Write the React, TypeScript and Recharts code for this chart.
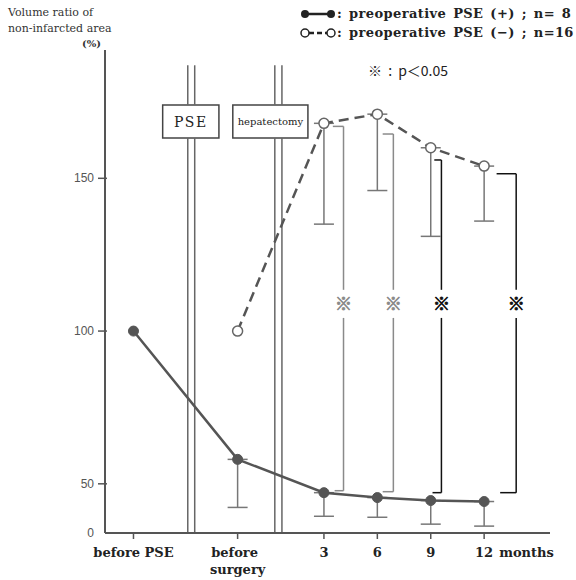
import React from "react";
import {
  ErrorBar,
  Line,
  LineChart,
  ReferenceArea,
  ReferenceDot,
  ReferenceLine,
  XAxis,
  YAxis,
} from "recharts";

// time axis positions (broken axis: before PSE / before surgery / months after)
const xPos = [-7.7, -1.85, 3, 6, 9, 12];
const xLabels = ["before PSE", "before surgery", "3", "6", "9", "12"];

// volume ratio (%)
const psePos = [100, 58, 41, 36, 33, 32];
const psePosLower = [null, 26, 17, 16, 9, 7];
const pseNeg = [null, 100, 168, 171, 160, 154];
const pseNegLower = [null, null, 135, 146, 131, 136];

const yTicks = [0, 50, 100, 150];

// significance brackets (months column, top / bottom of bracket)
const sigX = [4.1, 6.9, 9.6, 13.8];
const sigArmTop = [3.5, 6.3, 9.2, 12.7];
const sigArmBottom = [3.6, 6.3, 9.1, 12.9];
const sigTop = [167, 164.5, 156, 151.5];
const sigBottom = [43, 42, 41, 41];

// the axis is compressed below 50
const K = 0.322;
const disp = (v: number) => (v >= 50 ? v : 50 - (50 - v) * K);

const lowerErr = (v: number | null, lo: number | null) =>
  v == null || lo == null ? null : [disp(v) - disp(lo), 0];

const data = xPos.map((x, i) => ({
  x,
  pos: disp(psePos[i]),
  posErr: lowerErr(psePos[i], psePosLower[i]),
  neg: pseNeg[i] == null ? null : disp(pseNeg[i] as number),
  negErr: lowerErr(pseNeg[i], pseNegLower[i]),
}));

const SERIF = "'DejaVu Serif', serif";
const INK = "#333";

const XTick = (props: any) => {
  const { x, y, payload } = props;
  const i = xPos.indexOf(payload.value);
  const label = xLabels[i];
  const style = { fontFamily: SERIF, fontWeight: "bold" as const, fontSize: 13, fill: "#222" };
  if (label === "before surgery") {
    return (
      <g>
        <text x={x - 3} y={y + 16} textAnchor="middle" {...style}>before</text>
        <text x={x} y={y + 33} textAnchor="middle" {...style}>surgery</text>
      </g>
    );
  }
  if (label === "12") {
    return (
      <g>
        <text x={x} y={y + 16} textAnchor="middle" {...style}>12</text>
        <text x={x + 15} y={y + 16} textAnchor="start" {...style}>months</text>
      </g>
    );
  }
  return (
    <text x={x} y={y + 16} textAnchor="middle" {...style}>
      {label}
    </text>
  );
};

const YTick = (props: any) => {
  const { x, y, payload } = props;
  const i = yTicks.map(disp).indexOf(payload.value);
  return (
    <g>
      {yTicks[i] !== 0 && (
        <line x1={x + 1} x2={x + 10} y1={y} y2={y} stroke="#555" strokeWidth={1.5} />
      )}
      <text
        x={x - 3}
        y={y + 4}
        textAnchor="end"
        fontFamily="'Liberation Sans', Arial, sans-serif"
        fontSize={12}
        fill="#555"
      >
        {yTicks[i]}
      </text>
    </g>
  );
};

const boxLabel = (text: string, size: number, spacing: number) => (p: any) => {
  const { viewBox } = p;
  return (
    <text
      x={viewBox.x + viewBox.width / 2}
      y={viewBox.y + viewBox.height / 2 + size * 0.36}
      textAnchor="middle"
      fontFamily={SERIF}
      fontSize={size}
      letterSpacing={spacing}
      fill="#222"
    >
      {text}
    </text>
  );
};

const Mark = (p: any) => (
  <text
    x={p.cx}
    y={p.cy + 6}
    textAnchor="middle"
    fontFamily="'Noto Sans CJK JP', sans-serif"
    fontWeight="bold"
    fontSize={17}
    fill={p.fill}
    stroke={p.fill}
    strokeWidth={0.8}
  >
    ※
  </text>
);

const vLines = [
  { x: -4.65 }, { x: -4.26 }, // PSE
  { x: 0.24 }, { x: 0.64 }, // hepatectomy
];

export default function App() {
  const sigColor = (i: number) => (i < 2 ? "#8a8a8a" : "#111");
  const legendText = {
    fontFamily: SERIF,
    fontWeight: "bold" as const,
    fontSize: 13,
    letterSpacing: 0.4,
    wordSpacing: 2,
    fill: "#222",
  };
  return (
    <div style={{ position: "absolute", left: 0, top: 0, width: 576, height: 580, background: "#fff" }}>
      <LineChart
        width={576}
        height={580}
        data={data}
        margin={{ top: 50, right: 26, left: 0, bottom: 0 }}
      >
        <XAxis
          type="number"
          dataKey="x"
          domain={[-9.3, 15.7]}
          ticks={xPos}
          allowDataOverflow
          height={47}
          tickSize={6}
          tick={<XTick />}
          tickLine={{ stroke: "#555", strokeWidth: 1.5 }}
          axisLine={{ stroke: "#555", strokeWidth: 2 }}
        />
        <YAxis
          type="number"
          domain={[disp(0), 192]}
          ticks={yTicks.map(disp)}
          allowDataOverflow
          width={105}
          tickLine={false}
          tick={<YTick />}
          axisLine={{ stroke: "#555", strokeWidth: 2 }}
        />
        {vLines.map((l, i) => (
          <ReferenceLine
            key={`vl-lo-${i}`}
            segment={[{ x: l.x, y: disp(0) }, { x: l.x, y: 163.2 }]}
            stroke="#666"
            strokeWidth={1.5}
          />
        ))}
        {vLines.map((l, i) => (
          <ReferenceLine
            key={`vl-hi-${i}`}
            segment={[{ x: l.x, y: 174 }, { x: l.x, y: 187 }]}
            stroke="#666"
            strokeWidth={1.5}
          />
        ))}
        <ReferenceArea
          x1={-6.06}
          x2={-2.9}
          y1={163.2}
          y2={174}
          fill="#fff"
          fillOpacity={1}
          stroke="#444"
          strokeWidth={1.5}
          label={boxLabel("PSE", 14, 1.5)}
        />
        <ReferenceArea
          x1={-2.12}
          x2={2.1}
          y1={163.2}
          y2={174}
          fill="#fff"
          fillOpacity={1}
          stroke="#444"
          strokeWidth={1.5}
          label={boxLabel("hepatectomy", 10, 0)}
        />
        {sigX.map((sx, i) => (
          <ReferenceLine
            key={`sa-${i}`}
            segment={[{ x: sx, y: sigTop[i] }, { x: sx, y: 113.5 }]}
            stroke={sigColor(i)}
            strokeWidth={1.5}
          />
        ))}
        {sigX.map((sx, i) => (
          <ReferenceLine
            key={`sb-${i}`}
            segment={[{ x: sx, y: 104.3 }, { x: sx, y: disp(sigBottom[i]) }]}
            stroke={sigColor(i)}
            strokeWidth={1.5}
          />
        ))}
        {sigX.map((sx, i) => (
          <ReferenceLine
            key={`st-${i}`}
            segment={[{ x: sigArmTop[i], y: sigTop[i] }, { x: sx, y: sigTop[i] }]}
            stroke={sigColor(i)}
            strokeWidth={1.5}
          />
        ))}
        {sigX.map((sx, i) => (
          <ReferenceLine
            key={`sbt-${i}`}
            segment={[
              { x: sigArmBottom[i], y: disp(sigBottom[i]) },
              { x: sx, y: disp(sigBottom[i]) },
            ]}
            stroke={sigColor(i)}
            strokeWidth={1.5}
          />
        ))}
        {sigX.map((sx, i) => (
          <ReferenceDot
            key={`sm-${i}`}
            x={sx}
            y={108.9}
            r={6}
            fill={sigColor(i)}
            shape={Mark}
          />
        ))}
        <Line
          dataKey="neg"
          type="linear"
          stroke="#555"
          strokeWidth={2.5}
          strokeDasharray="10 6"
          dot={{ r: 5, fill: "#fff", stroke: "#666", strokeWidth: 1.5, strokeDasharray: "0" }}
          isAnimationActive={false}
        >
          <ErrorBar dataKey="negErr" width={10} stroke="#777" strokeWidth={1.5} direction="y" />
        </Line>
        <Line
          dataKey="pos"
          type="linear"
          stroke="#555"
          strokeWidth={2.5}
          dot={{ r: 5, fill: "#555", stroke: "#555", strokeWidth: 1 }}
          isAnimationActive={false}
        >
          <ErrorBar dataKey="posErr" width={10} stroke="#777" strokeWidth={1.5} direction="y" />
        </Line>
      </LineChart>
      <svg
        width={576}
        height={580}
        style={{ position: "absolute", left: 0, top: 0, pointerEvents: "none" }}
      >
        <g fontFamily={SERIF} fill={INK} fontSize={11}>
          <text x={8} y={16}>Volume ratio of</text>
          <text x={8} y={32}>non-infarcted area</text>
          <text x={82} y={47} fontWeight="bold" fontSize={10}>(%)</text>
        </g>
        <g>
          <line x1={305} x2={331} y1={14} y2={14} stroke="#222" strokeWidth={2.5} />
          <circle cx={305} cy={14} r={4} fill="#222" />
          <circle cx={331} cy={14} r={4} fill="#222" />
          <text x={337} y={18} {...legendText}>
            : preoperative PSE (+) ; n= 8
          </text>
          <line x1={309} x2={327} y1={33} y2={33} stroke="#222" strokeWidth={2.5} strokeDasharray="5 3" />
          <circle cx={305} cy={33} r={4} fill="#fff" stroke="#222" strokeWidth={1.5} />
          <circle cx={331} cy={33} r={4} fill="#fff" stroke="#222" strokeWidth={1.5} />
          <text x={337} y={37} {...legendText}>
            : preoperative PSE (−) ; n=16
          </text>
          <text
            x={368}
            y={76}
            fontFamily="'Noto Sans CJK JP', sans-serif"
            fontSize={14}
            wordSpacing={3}
            fill="#222"
          >
            ※ : p＜0.05
          </text>
        </g>
      </svg>
    </div>
  );
}
